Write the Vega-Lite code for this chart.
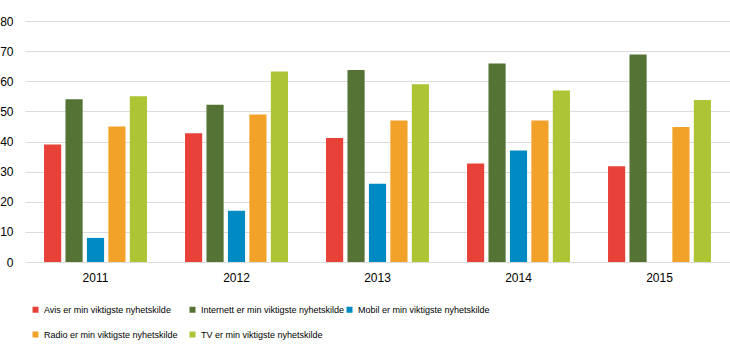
{
  "$schema": "https://vega.github.io/schema/vega-lite/v6.json",
  "autosize": {"type": "none"},
  "width": 705,
  "height": 241,
  "padding": {"left": 25, "top": 21, "right": 0, "bottom": 97},
  "background": "white",
  "config": {"view": {"stroke": null}, "font": "Liberation Sans"},
  "data": {"values": [
    {"year": "2011", "series": "Avis er min viktigste nyhetskilde", "value": 39},
    {"year": "2011", "series": "Internett er min viktigste nyhetskilde", "value": 54},
    {"year": "2011", "series": "Mobil er min viktigste nyhetskilde", "value": 8},
    {"year": "2011", "series": "Radio er min viktigste nyhetskilde", "value": 45},
    {"year": "2011", "series": "TV er min viktigste nyhetskilde", "value": 55},
    {"year": "2012", "series": "Avis er min viktigste nyhetskilde", "value": 42.7},
    {"year": "2012", "series": "Internett er min viktigste nyhetskilde", "value": 52.2},
    {"year": "2012", "series": "Mobil er min viktigste nyhetskilde", "value": 17},
    {"year": "2012", "series": "Radio er min viktigste nyhetskilde", "value": 49},
    {"year": "2012", "series": "TV er min viktigste nyhetskilde", "value": 63.2},
    {"year": "2013", "series": "Avis er min viktigste nyhetskilde", "value": 41.2},
    {"year": "2013", "series": "Internett er min viktigste nyhetskilde", "value": 63.7},
    {"year": "2013", "series": "Mobil er min viktigste nyhetskilde", "value": 26},
    {"year": "2013", "series": "Radio er min viktigste nyhetskilde", "value": 47},
    {"year": "2013", "series": "TV er min viktigste nyhetskilde", "value": 59},
    {"year": "2014", "series": "Avis er min viktigste nyhetskilde", "value": 32.7},
    {"year": "2014", "series": "Internett er min viktigste nyhetskilde", "value": 65.9},
    {"year": "2014", "series": "Mobil er min viktigste nyhetskilde", "value": 37},
    {"year": "2014", "series": "Radio er min viktigste nyhetskilde", "value": 47},
    {"year": "2014", "series": "TV er min viktigste nyhetskilde", "value": 56.9},
    {"year": "2015", "series": "Avis er min viktigste nyhetskilde", "value": 31.8},
    {"year": "2015", "series": "Internett er min viktigste nyhetskilde", "value": 68.9},
    {"year": "2015", "series": "Radio er min viktigste nyhetskilde", "value": 44.8},
    {"year": "2015", "series": "TV er min viktigste nyhetskilde", "value": 53.8}
  ]},
  "mark": {"type": "bar"},
  "encoding": {
    "x": {
      "field": "year", "type": "nominal", "title": null,
      "scale": {"paddingInner": 0.27, "paddingOuter": 0.135},
      "axis": {"labelAngle": 0, "ticks": false, "domain": false, "labelFontSize": 12, "labelColor": "#000000", "labelPadding": 10, "labelFont": "Liberation Sans"}
    },
    "xOffset": {
      "field": "series", "type": "nominal",
      "scale": {"domain": ["Avis er min viktigste nyhetskilde", "Internett er min viktigste nyhetskilde", "Mobil er min viktigste nyhetskilde", "Radio er min viktigste nyhetskilde", "TV er min viktigste nyhetskilde"], "paddingInner": 0.2, "paddingOuter": 0}
    },
    "y": {
      "field": "value", "type": "quantitative", "title": null,
      "scale": {"domain": [0, 80], "nice": false},
      "axis": {"values": [0, 10, 20, 30, 40, 50, 60, 70, 80], "ticks": false, "domain": false, "gridColor": "#dcdcdc", "gridWidth": 1.2, "labelFontSize": 12, "labelColor": "#000000", "labelPadding": 12, "labelFont": "Liberation Sans"}
    },
    "color": {
      "field": "series", "type": "nominal", "title": null,
      "scale": {
        "domain": ["Avis er min viktigste nyhetskilde", "Internett er min viktigste nyhetskilde", "Mobil er min viktigste nyhetskilde", "Radio er min viktigste nyhetskilde", "TV er min viktigste nyhetskilde"],
        "range": ["#E84137", "#547334", "#008AC4", "#F2A228", "#ADC434"]
      },
      "legend": {
        "orient": "none", "legendX": 6, "legendY": 284, "direction": "horizontal", "columns": 3,
        "gridAlign": "all", "columnPadding": -1, "rowPadding": 15,
        "symbolType": "square", "symbolSize": 36, "symbolStrokeWidth": 0, "labelOffset": 4,
        "labelFont": "Liberation Sans", "labelFontSize": 9, "labelColor": "#000000", "labelLimit": 300
      }
    }
  }
}
